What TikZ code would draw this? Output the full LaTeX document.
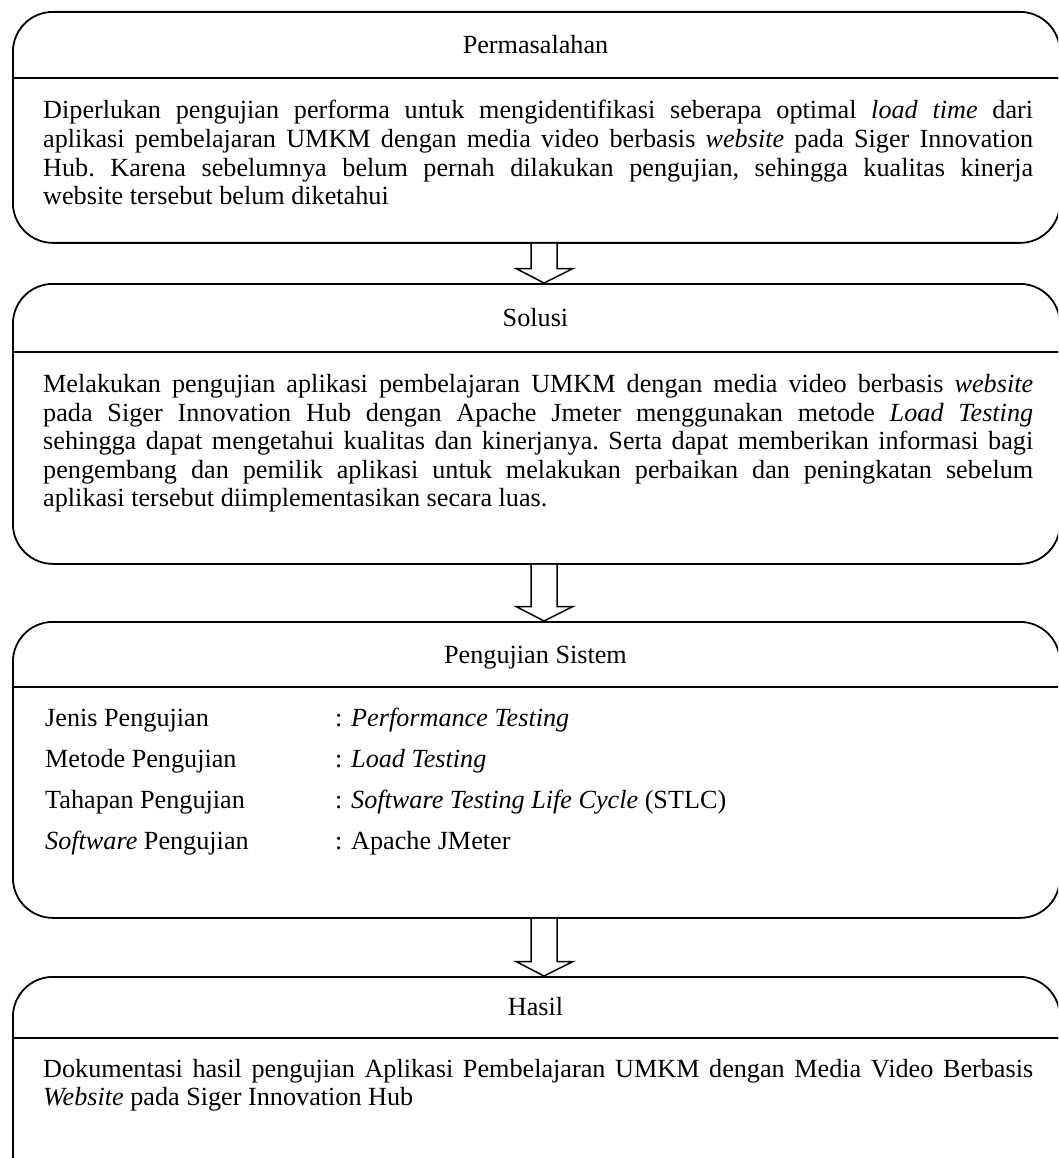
\documentclass[tikz,border=0pt]{standalone}
\usepackage{fontspec}
\setmainfont{Liberation Serif}
\begin{document}
\begin{tikzpicture}[x=1pt,y=-1pt,
  box/.style={draw,line width=1.8pt,rounded corners=40pt,inner sep=0pt,anchor=north west,minimum width=1047pt},
  divline/.style={line width=1.8pt},
  title/.style={anchor=base,inner sep=0pt,font=\fontsize{26.2}{29}\selectfont},
  body/.style={anchor=base west,inner sep=0pt,text width=990pt,align=justify,font=\fontsize{26.2}{28.6}\selectfont\frenchspacing},
  lbl/.style={anchor=base west,inner sep=0pt,font=\fontsize{26.2}{29}\selectfont},
  hollow/.style={draw,line width=1.5pt,line join=miter,fill=white}
]
\useasboundingbox (0,0) rectangle (1058,1158);
\clip (0,0) rectangle (1058,1158);

% boxes
\node[box,minimum height=231pt] (b1) at (12,11) {};
\node[box,minimum height=280pt] (b2) at (12,283) {};
\node[box,minimum height=296pt] (b3) at (12,621) {};
\node[box,minimum height=220pt] (b4) at (12,976) {};

% dividers
\coordinate (d1) at (0,78);
\coordinate (d2) at (0,352);
\coordinate (d3) at (0,687);
\coordinate (d4) at (0,1038);
\draw[divline] (b1.west |- d1) -- (b1.east |- d1);
\draw[divline] (b2.west |- d2) -- (b2.east |- d2);
\draw[divline] (b3.west |- d3) -- (b3.east |- d3);
\draw[divline] (b4.west |- d4) -- (b4.east |- d4);

% titles
\node[title] (t1) at (535.5,53.5) {Permasalahan};
\node[title] (t2) at (535.5,326.5) {Solusi};
\node[title] (t3) at (535.5,663) {Pengujian Sistem};
\node[title] (t4) at (535.5,1015) {Hasil};

% texts
\node[body] (x1) at (43,119) {Diperlukan pengujian performa untuk mengidentifikasi seberapa optimal \textit{load time} dari\linebreak
aplikasi pembelajaran UMKM dengan media video berbasis \textit{website} pada Siger Innovation\linebreak
Hub.\ Karena sebelumnya belum pernah dilakukan pengujian, sehingga kualitas kinerja\linebreak
website tersebut belum diketahui};

\node[body] (x2) at (43,392.5) {Melakukan pengujian aplikasi pembelajaran UMKM dengan media video berbasis \textit{website}\linebreak
pada Siger Innovation Hub dengan Apache Jmeter menggunakan metode \textit{Load Testing}\linebreak
sehingga dapat mengetahui kualitas dan kinerjanya. Serta dapat memberikan informasi bagi\linebreak
pengembang dan pemilik aplikasi untuk melakukan perbaikan dan peningkatan sebelum\linebreak
aplikasi tersebut diimplementasikan secara luas.};

\node[lbl] (l1) at (45,726) {Jenis Pengujian};
\node[lbl] (l2) at (45,767) {Metode Pengujian};
\node[lbl] (l3) at (45,808) {Tahapan Pengujian};
\node[lbl] (l4) at (45,849) {\textit{Software} Pengujian};
\node[lbl] (v1) at (335,726) {: \textit{Performance Testing}};
\node[lbl] (v2) at (335,767) {: \textit{Load Testing}};
\node[lbl] (v3) at (335,808) {: \textit{Software Testing Life Cycle} (STLC)};
\node[lbl] (v4) at (335,849) {: Apache JMeter};

\node[body] (x4) at (43,1077) {Dokumentasi hasil pengujian Aplikasi Pembelajaran UMKM dengan Media Video Berbasis\linebreak
\textit{Website} pada Siger Innovation Hub};

% hollow arrows
\coordinate (ax) at (544,0);
\path (ax |- b1.south) coordinate (s1) (ax |- b2.north) coordinate (e1);
\path (ax |- b2.south) coordinate (s2) (ax |- b3.north) coordinate (e2);
\path (ax |- b3.south) coordinate (s3) (ax |- b4.north) coordinate (e3);
\foreach \s/\e in {s1/e1,s2/e2,s3/e3}{
  \draw[hollow] ([xshift=-13pt]\s) -- ([xshift=-13pt,yshift=14.5pt]\e) -- ([xshift=-28pt,yshift=14.5pt]\e) -- (\e)
    -- ([xshift=29pt,yshift=14.5pt]\e) -- ([xshift=13pt,yshift=14.5pt]\e) -- ([xshift=13pt]\s);
}
\end{tikzpicture}
\end{document}
